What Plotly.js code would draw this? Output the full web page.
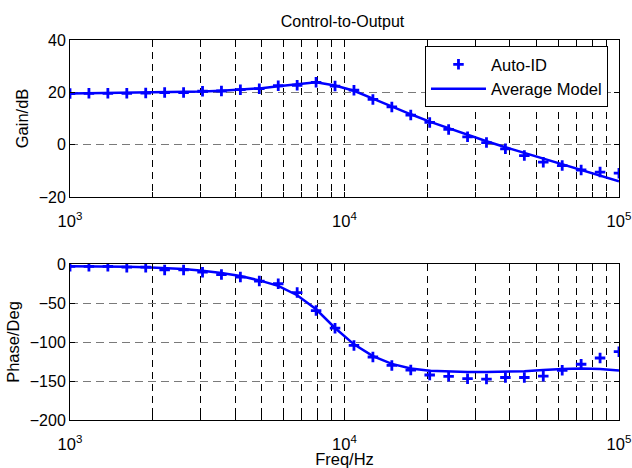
<!DOCTYPE html>
<html>
<head>
<meta charset="utf-8">
<script src="https://cdn.plot.ly/plotly-3.0.1.min.js"></script>
<style>
  html, body { margin: 0; padding: 0; background: #ffffff; }
  #chart { width: 632px; height: 468px; }
</style>
</head>
<body>
<div id="chart"></div>
<script>
// Sweep frequencies (Hz), 30 log-spaced points from 1 kHz to 100 kHz
const freqHz = [1000, 1172.1, 1373.8, 1610.3, 1887.4, 2212.2, 2592.9, 3039.2, 3562.2, 4175.3,
  4893.9, 5736.2, 6723.4, 7880.5, 9236.7, 10826.4, 12689.6, 14873.5, 17433.3, 20433.6,
  23950.3, 28072.2, 32903.4, 38566.2, 45203.5, 52983.2, 62101.7, 72789.5, 85316.8, 100000];

// Measured (Auto-ID) gain in dB
const autoIdGain = [19.5, 19.6, 19.6, 19.6, 19.7, 19.9, 19.9, 20.4, 20.5, 21.0,
  21.4, 22.5, 22.7, 23.8, 22.4, 20.8, 17.3, 14.4, 11.3, 8.5,
  5.8, 3.0, 0.8, -1.6, -4.2, -6.7, -8.0, -9.7, -10.5, -10.9];

// Average model gain in dB
const modelGain = [19.5, 19.6, 19.7, 19.8, 19.9, 20.0, 20.1, 20.3, 20.6, 21.0,
  21.5, 22.3, 23.0, 23.8, 22.6, 20.6, 17.6, 14.5, 11.6, 8.8,
  6.2, 3.7, 1.3, -1.0, -3.2, -5.4, -7.5, -9.6, -11.8, -14.0];

// Measured (Auto-ID) phase in degrees
const autoIdPhase = [-3, -3, -3, -4, -4, -7.6, -7.6, -10.5, -13.5, -16.8,
  -21.9, -25.3, -36.6, -59.7, -82.3, -104.4, -119.2, -130.0, -136.0, -142.3,
  -144.0, -147.0, -147.5, -145.5, -145.5, -143.8, -136.3, -128.5, -120.5, -112.4];

// Average model phase in degrees
const modelPhase = [-3, -3, -3.2, -3.6, -4.2, -5.2, -6.5, -8.5, -11.5, -15.5,
  -21, -28, -40, -58, -82, -103, -118, -128, -134, -137,
  -138, -138.5, -138.5, -138, -137.5, -136, -134.5, -134, -134.5, -136.5];

// Decade labels and 1..9 x decade positions for the log grid
const decadeTicks = [1000, 10000, 100000];
const decadeLabels = ['10<sup>3</sup>', '10<sup>4</sup>', '10<sup>5</sup>'];
const gainTicks = [-20, 0, 20, 40];
const phaseTicks = [-200, -150, -100, -50, 0];

const logTickVals = [];
const logTickText = [];
decadeTicks.forEach((d, i) => {
  const mults = i < decadeTicks.length - 1 ? [1, 2, 3, 4, 5, 6, 7, 8, 9] : [1];
  mults.forEach(m => {
    logTickVals.push(d * m);
    logTickText.push(m === 1 ? decadeLabels[i] : '');
  });
});

const blue = '#0000ff';
const crossMarker = { symbol: 'cross-thin', size: 7.5, color: blue, line: { color: blue, width: 2.8 } };

const traces = [
  { x: freqHz, y: autoIdGain, xaxis: 'x', yaxis: 'y', mode: 'markers', name: 'Auto-ID',
    marker: crossMarker },
  { x: freqHz, y: modelGain, xaxis: 'x', yaxis: 'y', mode: 'lines', name: 'Average Model',
    line: { color: blue, width: 2.5 } },
  { x: freqHz, y: autoIdPhase, xaxis: 'x2', yaxis: 'y2', mode: 'markers', name: 'Auto-ID',
    marker: crossMarker, showlegend: false },
  { x: freqHz, y: modelPhase, xaxis: 'x2', yaxis: 'y2', mode: 'lines', name: 'Average Model',
    line: { color: blue, width: 2.5 }, showlegend: false }
];

const font = { family: 'Arial, "Liberation Sans", sans-serif', size: 16, color: '#000000' };

function xAxis(anchor, extra) {
  return Object.assign({
    type: 'log', range: [3, 5], anchor: anchor, domain: [0, 1],
    tickmode: 'array', tickvals: logTickVals, ticktext: logTickText,
    ticks: 'inside', ticklen: 5, tickcolor: '#000000', ticklabelstandoff: 9,
    showline: true, linecolor: '#000000', linewidth: 1, mirror: 'allticks',
    showgrid: true, gridcolor: '#000000', gridwidth: 1, griddash: '7px,5px',
    zeroline: false, tickfont: { size: 16.5 }
  }, extra || {});
}

function yAxis(anchor, domain, range, vals, title) {
  return {
    anchor: anchor, domain: domain, range: range,
    tickmode: 'array', tickvals: vals,
    ticks: 'inside', ticklen: 5, tickcolor: '#000000',
    showline: true, linecolor: '#000000', linewidth: 1, mirror: 'allticks',
    showgrid: true, gridcolor: '#7a7a7a', gridwidth: 1, griddash: '8px,5px',
    zeroline: false, tickfont: { size: 16 },
    title: { text: title, font: { size: 16.5 }, standoff: 5 }
  };
}

const layout = {
  width: 632, height: 468,
  margin: { l: 70, r: 13, t: 40, b: 48 },
  paper_bgcolor: '#ffffff', plot_bgcolor: '#ffffff',
  font: font,
  title: { text: 'Control-to-Output', font: { size: 16 }, x: 342.5 / 632, xanchor: 'center',
           y: 1 - 21 / 468, yanchor: 'middle' },
  showlegend: true,
  legend: {
    x: 0.6466, y: 0.984, xanchor: 'left', yanchor: 'top',
    bgcolor: '#ffffff', bordercolor: '#000000', borderwidth: 1,
    font: { size: 16.5 }, itemwidth: 55
  },
  xaxis: xAxis('y'),
  yaxis: yAxis('x', [0.587, 1], [-20, 40], gainTicks, 'Gain/dB'),
  xaxis2: xAxis('y2', { title: { text: 'Freq/Hz', font: { size: 16.5 }, standoff: 6 } }),
  yaxis2: yAxis('x2', [0, 0.4105], [-200, 0], phaseTicks, 'Phase/Deg')
};

Plotly.newPlot('chart', traces, layout, { staticPlot: true, displayModeBar: false });
</script>
</body>
</html>
